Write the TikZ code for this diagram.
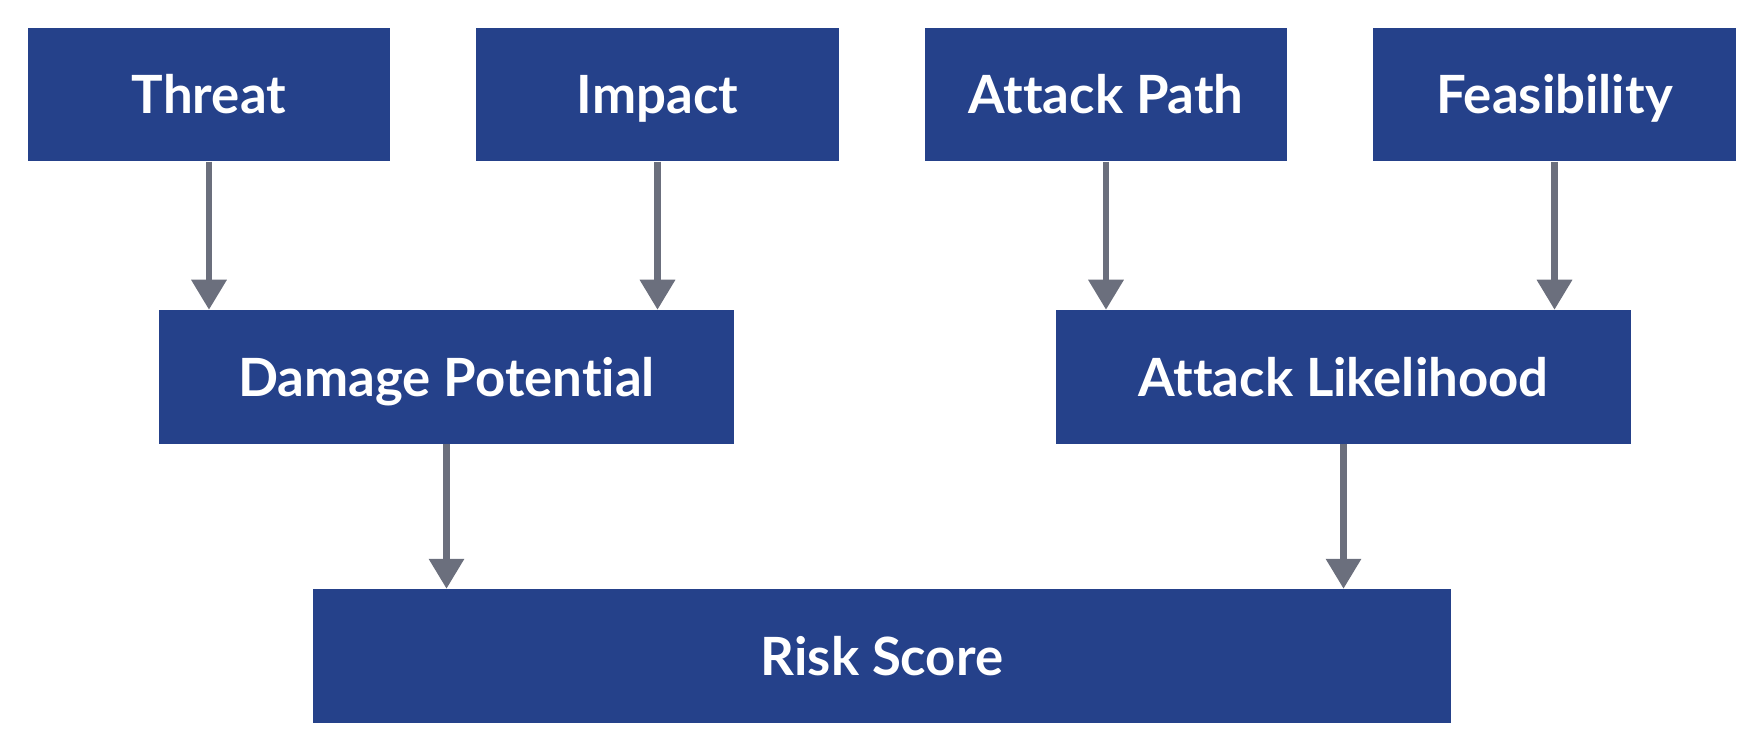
\documentclass[tikz,border=0pt]{standalone}
\usepackage{fontspec}
\setmainfont{Lato}[Ligatures={NoCommon}]
\usepackage{tikz}
\usepackage{xcolor}
\usetikzlibrary{arrows.meta,positioning}
\definecolor{factorblue}{RGB}{37,65,138}
\definecolor{flowgray}{RGB}{107,111,125}

\begin{document}
\begin{tikzpicture}[x=0.01cm,y=-0.01cm,
    factor/.style={fill=factorblue,text=white,inner sep=0pt,
        font=\bfseries\fontsize{15}{18}\selectfont,
        text height=10.8pt,text depth=0pt,
        minimum width=3.62cm,minimum height=1.33cm},
    flow/.style={draw=flowgray,line width=0.065cm,
        -{Triangle[width=0.34cm,length=0.30cm]}}]
    \useasboundingbox (0,0) rectangle (1758,748);

    % Input factors
    \node[factor] (threat) at (209,94.5) {Threat};
    \node[factor] (impact) at (657.5,94.5) {Impact};
    \node[factor] (path) at (1106,94.5) {Attack Path};
    \node[factor] (feas) at (1554.5,94.5) {Feasibility};

    % Intermediate ratings
    \node[factor,minimum width=5.75cm] (damage) at (446.5,377) {Damage Potential};
    \node[factor,minimum width=5.75cm] (likely) at (1343.5,377) {Attack Likelihood};

    % Overall result
    \node[factor,minimum width=11.38cm] (risk) at (882,656) {Risk Score};

    % Connections
    \draw[flow] (threat.south) -- (threat.south |- damage.north);
    \draw[flow] (impact.south) -- (impact.south |- damage.north);
    \draw[flow] (path.south) -- (path.south |- likely.north);
    \draw[flow] (feas.south) -- (feas.south |- likely.north);
    \draw[flow] (damage.south) -- (damage.south |- risk.north);
    \draw[flow] (likely.south) -- (likely.south |- risk.north);
\end{tikzpicture}
\end{document}
